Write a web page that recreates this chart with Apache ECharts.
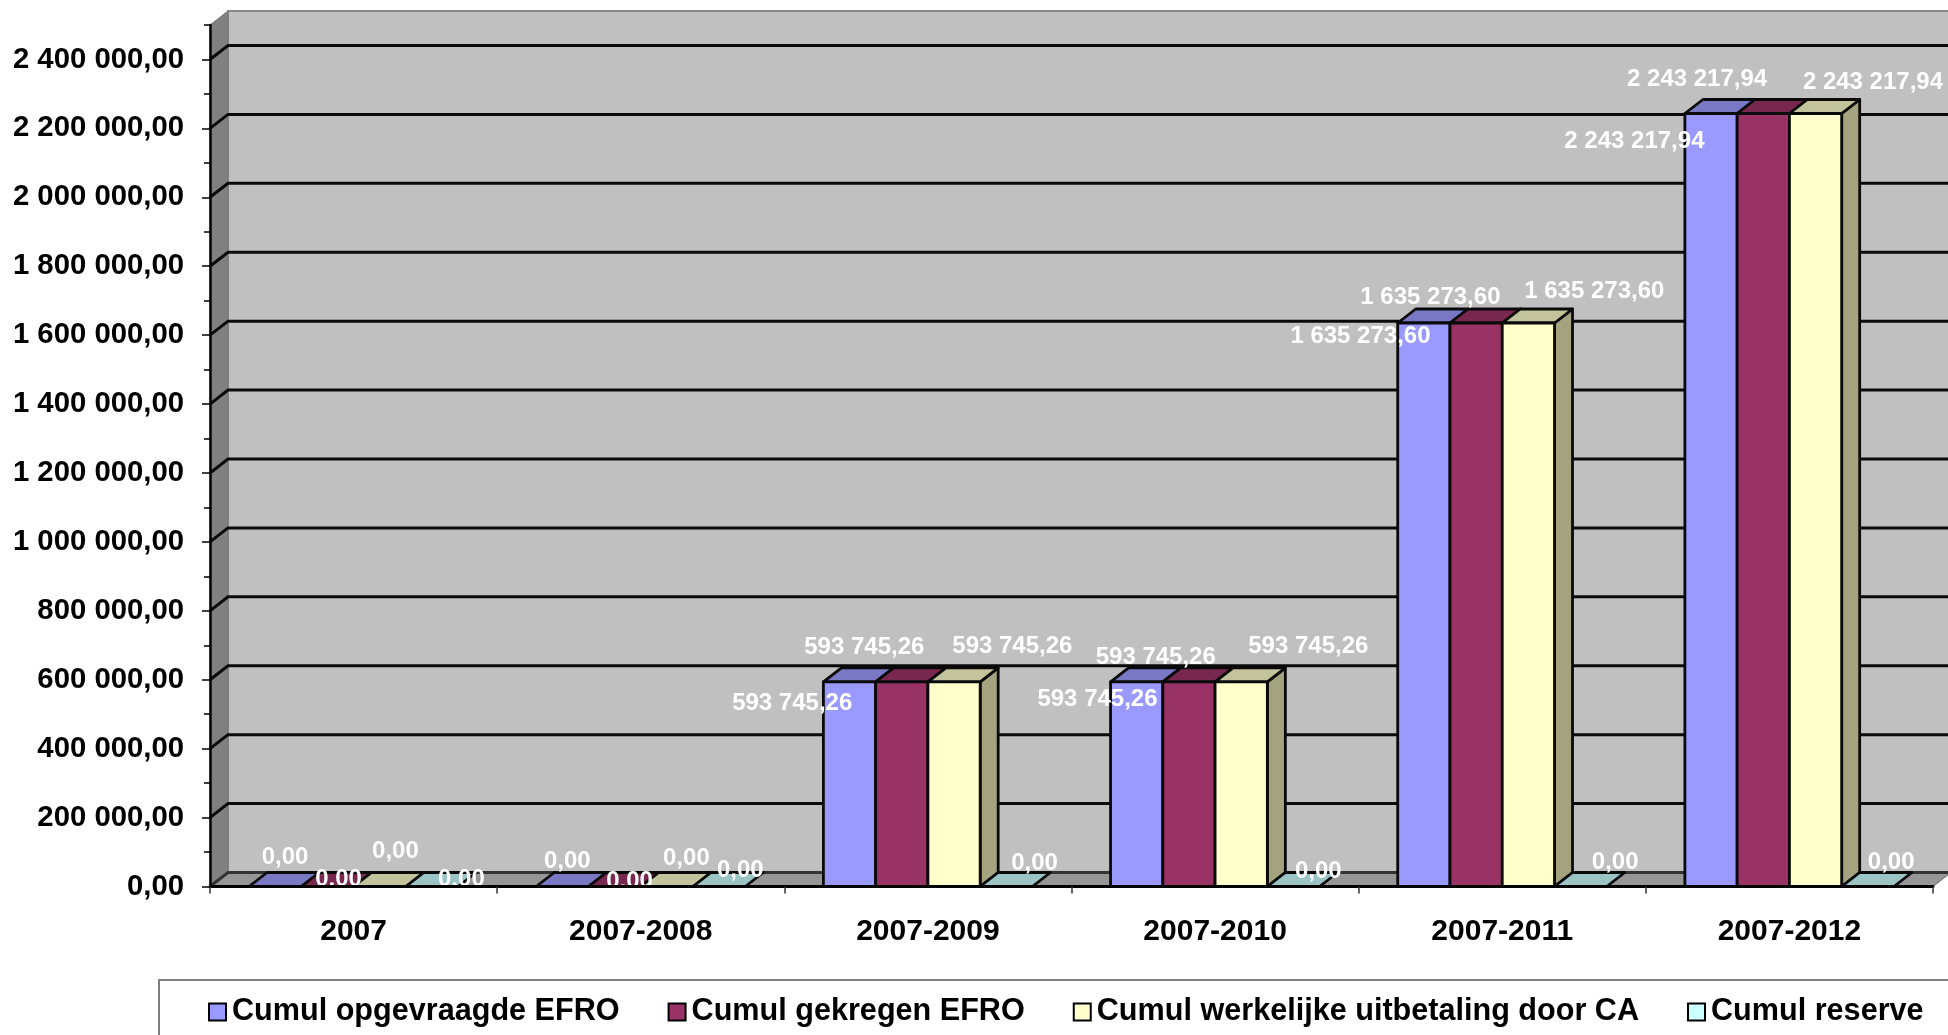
<!DOCTYPE html>
<html>
<head>
<meta charset="utf-8">
<style>html,body{margin:0;padding:0;background:#fff;overflow:hidden}#c{width:1948px;height:1035px}</style>
<script src="https://cdn.jsdelivr.net/npm/echarts@6/dist/echarts.min.js"></script>
</head>
<body>
<div id="c"></div>
<script>
const categories = ['2007','2007-2008','2007-2009','2007-2010','2007-2011','2007-2012'];
const opgevraagd = [0, 0, 593745.26, 593745.26, 1635273.60, 2243217.94];
const gekregen   = [0, 0, 593745.26, 593745.26, 1635273.60, 2243217.94];
const uitbetaald = [0, 0, 593745.26, 593745.26, 1635273.60, 2243217.94];
const reserve    = [0, 0, 0, 0, 0, 0];
const seriesNames = ['Cumul opgevraagde EFRO','Cumul gekregen EFRO','Cumul werkelijke uitbetaling door CA','Cumul reserve'];
const yMax = 2500000, yStep = 200000, yMinor = 100000;
const yTicks = [0,200000,400000,600000,800000,1000000,1200000,1400000,1600000,1800000,2000000,2200000,2400000];

// Hand-placed data-label offsets from the top centre of each bar [dx, dy]
const labelOffsets = [
  [[9.4,-29.5],[4.5,-26],[-57.8,20.7],[-39.7,17],[-63.9,13.3],[-77.1,27.3]],
  [[10.6,-7.5],[14.4,-5.5],[-38,-35],[-33.7,-25],[-46.2,-26.4],[-66.7,-34.4]],
  [[15.2,-35.5],[19,-28.5],[57.8,-36],[66.6,-36],[65.4,-32.6],[56.9,-31.7]],
  [[28.9,-7.5],[20.7,-17],[27.8,-23.8],[24.3,-15.5],[34,-24.5],[22.9,-24.5]]
];
const palette = [
  {front:'#9999FF', top:'#7878C4', side:'#6F6FB8'},
  {front:'#993366', top:'#78284F', side:'#6E2549'},
  {front:'#FFFFCC', top:'#C4C49C', side:'#A3A37F'},
  {front:'#CCFFFF', top:'#9BC4C4', side:'#84A8A8'}
];
const DEPTH_X = 18, DEPTH_Y = -14, BAR_FRACTION = 0.182;
const LINE = '#0a0a0a';
const fontName = '"Liberation Sans", Arial, sans-serif';

function fmt(v){
  const p = v.toFixed(2).split('.');
  return p[0].replace(/\B(?=(\d{3})+(?!\d))/g,' ') + ',' + p[1];
}

function wallRender(params, api){
  const cs = params.coordSys;
  const L = cs.x, R = cs.x + cs.width, T = cs.y, B = cs.y + cs.height;
  const bx = L + DEPTH_X, by = B + DEPTH_Y, tx = T + DEPTH_Y, rx = R + DEPTH_X;
  const kids = [
    {type:'polygon', shape:{points:[[bx,tx],[rx,tx],[rx,by],[bx,by]]}, style:{fill:'#C0C0C0', stroke:'#8a8a8a', lineWidth:2}},
    {type:'polygon', shape:{points:[[L,T],[bx,tx],[bx,by],[L,B]]}, style:{fill:'#808080', stroke:'#777', lineWidth:1}},
    {type:'polygon', shape:{points:[[L,B],[bx,by],[rx,by],[R,B]]}, style:{fill:'#969696', stroke:'#666', lineWidth:1}}
  ];
  yTicks.forEach(v => {
    const y = api.coord([0, v])[1];
    kids.push({type:'polyline', shape:{points:[[L,y],[bx,y+DEPTH_Y],[rx,y+DEPTH_Y]]},
      style:{fill:'none', stroke:v===0?'#333':LINE, lineWidth:3}});
  });
  return {type:'group', children:kids};
}

function barRender(k){
  return function(params, api){
    const i = api.value(0), v = api.value(1);
    const base = api.coord([i, 0]), topP = api.coord([i, v]);
    const w = api.size([1,0])[0] * BAR_FRACTION;
    const x0 = base[0] + (k - 2) * w, x1 = x0 + w, y0 = topP[1], yB = base[1];
    const c = palette[k], s = {stroke:LINE, lineWidth:2.8, lineJoin:'round'};
    const kids = [];
    if (v > 0){
      kids.push({type:'polygon', shape:{points:[[x1,y0],[x1+DEPTH_X,y0+DEPTH_Y],[x1+DEPTH_X,yB+DEPTH_Y],[x1,yB]]},
        style:Object.assign({fill:c.side}, s)});
    }
    kids.push({type:'polygon', shape:{points:[[x0,y0],[x0+DEPTH_X,y0+DEPTH_Y],[x1+DEPTH_X,y0+DEPTH_Y],[x1,y0]]},
      style:Object.assign({fill:c.top}, s)});
    if (v > 0){
      kids.push({type:'rect', shape:{x:x0,y:y0,width:w,height:yB-y0},
        style:Object.assign({fill:c.front}, s), z2:5});
    }
    const off = labelOffsets[k][i];
    kids.push({type:'text', x:x0 + w/2 + off[0] + 0.5, y:y0 + off[1] + 0.5, z2:100, silent:true,
      style:{text:fmt(v), fill:'#fff', font:'bold 24px ' + fontName, align:'center', verticalAlign:'middle'}});
    return {type:'group', children:kids};
  };
}

const valueLists = [opgevraagd, gekregen, uitbetaald, reserve];
const barSeries = valueLists.map((vals,k)=>({
  type:'custom', name:seriesNames[k], z:2, clip:false,
  renderItem:barRender(k),
  encode:{x:0,y:1},
  itemStyle:{color:palette[k].front, borderColor:'#000', borderWidth:2},
  data:vals.map((v,i)=>[i,v])
}));

const chart = echarts.init(document.getElementById('c'), null, {renderer:'canvas'});
chart.setOption({
  animation:false,
  backgroundColor:'#fff',
  grid:{left:210, top:25, width:1723, height:861.5, containLabel:false},
  graphic:[{type:'rect', z:1, silent:true, shape:{x:159,y:980,width:2000,height:120},
    style:{fill:'#fff', stroke:'#808080', lineWidth:2}}],
  legend:{
    left:208, top:996.5, padding:0, icon:'rect', itemWidth:17, itemHeight:17, itemGap:48, z:3,
    data:seriesNames, selectedMode:false,
    itemStyle:{borderColor:'#000', borderWidth:2},
    textStyle:{color:'#000', fontFamily:fontName, fontWeight:'bold', fontSize:30.6, padding:[0,0,0,1]}
  },
  xAxis:{
    type:'category', data:categories, boundaryGap:true, z:5,
    axisLine:{show:true, lineStyle:{color:'#000', width:3}},
    axisTick:{show:true, alignWithLabel:false, length:7, lineStyle:{color:'#333', width:1.5}},
    axisLabel:{interval:0, margin:30, color:'#000', fontFamily:fontName, fontWeight:'bold', fontSize:30},
    splitLine:{show:false}
  },
  yAxis:[{
    type:'value', min:0, max:yMax, interval:yStep, z:5,
    axisLine:{show:true, lineStyle:{color:'#000', width:2.5}},
    axisTick:{show:true, length:8, lineStyle:{color:'#000', width:1.5}, customValues:yTicks},
    axisLabel:{margin:26, color:'#000', fontFamily:fontName, fontWeight:'bold', fontSize:29.3, customValues:yTicks, padding:[10,0,0,0], formatter:v=>fmt(v)},
    splitLine:{show:false}, minorSplitLine:{show:false}
  },{
    type:'value', position:'left', min:0, max:yMax, interval:yMinor, z:5,
    axisLine:{show:false},
    axisTick:{show:true, length:6, lineStyle:{color:'#000', width:1.5}},
    axisLabel:{show:false}, splitLine:{show:false}
  }],
  tooltip:{show:false},
  series:[{type:'custom', name:'walls', z:0, clip:false, silent:true, renderItem:wallRender, encode:{x:0,y:1}, data:[[0,0]]}].concat(barSeries)
});
</script>
</body>
</html>
